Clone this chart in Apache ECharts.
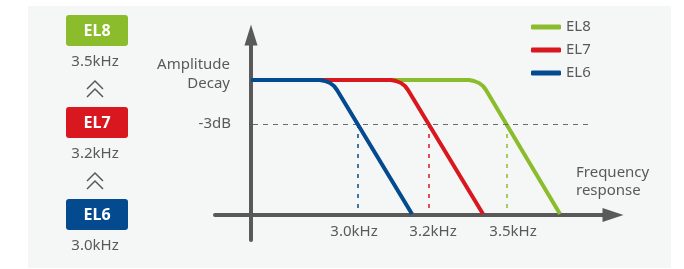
<!DOCTYPE html>
<html lang="en">
<head>
  <meta charset="UTF-8">
  <title>EL6 / EL7 / EL8 frequency response</title>
  <style>
    html,body{margin:0;padding:0;background:#fff;}
    #main{width:684px;height:269px;}
  </style>
</head>
<body>
  <div id="main"></div>
  <script src="https://cdn.jsdelivr.net/npm/echarts@6/dist/echarts.min.js"></script>
  <script>
    // models, top to bottom as in legend
    const models=['EL8','EL7','EL6'];
    const cutoffText=['3.5kHz','3.2kHz','3.0kHz'];

    // curves (x = frequency position, y = amplitude)
    const el8X=[0,218,223,228,232,235,309];
    const el8Y=[135,135,134,132,129,125,1];
    const el7X=[0,140,145,150,154,157,232];
    const el7Y=[135,135,134,132,129,125,1];
    const el6X=[0,69,74,79,83,86,161];
    const el6Y=[135,135,134,132,129,125,1];

    // -3dB level and where each curve crosses it (EL8, EL7, EL6)
    const level3dB=91;
    const crossX=[256,178,107];
    const dashEndX=339;

    // x axis tick labels
    const tickX=[103,182,262];
    const tickLabels=['3.0kHz','3.2kHz','3.5kHz'];

    const colors=['#8bbc2c','#d8171e','#034a8f'];
    const gray='#595959';
    const font='Noto Sans';

    const chart=echarts.init(document.querySelector('#main'));

    function pairs(xs,ys){
      return xs.map((x,i)=>[x,ys[i]]);
    }
    const curves=[pairs(el8X,el8Y),pairs(el7X,el7Y),pairs(el6X,el6Y)];

    const series=models.map((name,i)=>({
      name:name,
      type:'line',
      data:curves[i],
      symbol:'none',
      smooth:false,
      lineStyle:{color:colors[i],width:4,cap:'butt',join:'round'},
      itemStyle:{color:colors[i]},
      z:3+i,
      markLine:{
        silent:true,
        symbol:['none','none'],
        label:{show:false},
        lineStyle:{color:colors[i],type:[4,6],width:1.5},
        data:[[{coord:[crossX[i],level3dB]},{coord:[crossX[i],1]}]]
      }
    }));

    // horizontal -3dB dashed line
    series.push({
      type:'line',
      data:[],
      markLine:{
        silent:true,
        symbol:['none','none'],
        lineStyle:{color:'#6b6b6b',type:[5,5],width:1.2},
        label:{
          show:true,position:'start',distance:22,
          formatter:'-3dB',color:gray,fontSize:15,fontFamily:font
        },
        data:[[{coord:[2,level3dB]},{coord:[dashEndX,level3dB]}]]
      }
    });

    // left column: model badges with cutoff frequency
    const badgeTop=[15,107,199];
    const graphics=[{
      type:'rect',left:28,top:6,z:-10,
      shape:{width:643,height:262},
      style:{fill:'#f5f7f7'}
    }];
    models.forEach((m,i)=>{
      graphics.push({
        type:'rect',x:66,y:badgeTop[i],
        shape:{width:62,height:31,r:3},
        style:{fill:colors[i]}
      });
      graphics.push({
        type:'text',x:97,y:badgeTop[i]+16,
        style:{text:m,fill:'#fff',font:'bold 16px "'+font+'"',textAlign:'center',textVerticalAlign:'middle'}
      });
      graphics.push({
        type:'text',x:95,y:badgeTop[i]+47,
        style:{text:cutoffText[i],fill:gray,font:'15px "'+font+'"',textAlign:'center',textVerticalAlign:'middle'}
      });
    });
    [81,173].forEach(y0=>{
      [0,8].forEach(d=>{
        graphics.push({
          type:'polyline',
          shape:{points:[[87,y0+d+8],[95,y0+d],[103,y0+d+8]]},
          style:{stroke:gray,lineWidth:1.5,fill:null}
        });
      });
    });
    graphics.push({
      type:'text',x:230,y:74,
      style:{text:'Amplitude\nDecay',fill:gray,font:'15px "'+font+'"',textAlign:'right',textVerticalAlign:'middle',lineHeight:19}
    });
    graphics.push({
      type:'text',x:576,y:164,
      style:{text:'Frequency\nresponse',fill:gray,font:'15px "'+font+'"',textAlign:'left',textVerticalAlign:'top',lineHeight:18}
    });

    const option={
      animation:false,
      textStyle:{fontFamily:font},
      grid:{left:215,right:71,top:35,bottom:29,containLabel:false},
      legend:{
        data:models,
        orient:'vertical',
        left:526,top:14,
        itemWidth:30,itemHeight:5,itemGap:7,
        icon:'roundRect',
        textStyle:{color:gray,fontSize:15,lineHeight:16,fontFamily:font}
      },
      xAxis:{
        type:'value',min:-36,max:362,
        axisLine:{onZero:true,symbol:['none','triangle'],symbolSize:[14,21],lineStyle:{color:gray,width:4}},
        axisTick:{show:false},
        splitLine:{show:false},
        axisLabel:{
          customValues:tickX,
          formatter:v=>tickLabels[tickX.indexOf(v)],
          color:gray,fontSize:15,margin:-16,fontFamily:font
        }
      },
      yAxis:{
        type:'value',min:-25,max:180,
        axisLine:{show:true,onZero:true,symbol:['none','triangle'],symbolSize:[13,21],lineStyle:{color:gray,width:4}},
        axisTick:{show:false},
        splitLine:{show:false},
        axisLabel:{show:false}
      },
      graphic:graphics,
      series:series
    };
    chart.setOption(option);
  </script>
</body>
</html>
